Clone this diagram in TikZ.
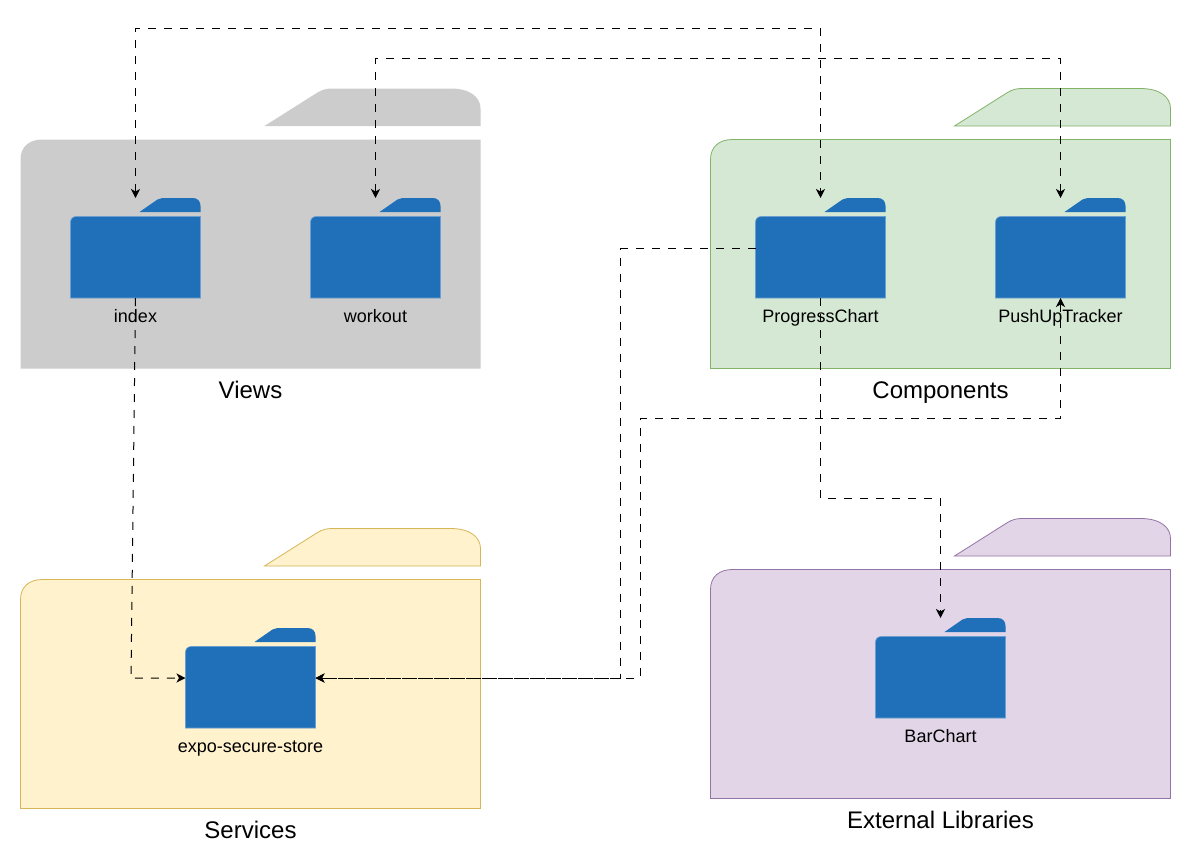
\documentclass[tikz,border=0pt]{standalone}
\usepackage{fontspec}
\setmainfont{Liberation Sans}
\usetikzlibrary{arrows.meta}
\definecolor{fblue}{HTML}{1F70B8}
\definecolor{fedge}{HTML}{6A9FD0}
\definecolor{grayfill}{HTML}{CCCCCC}
\definecolor{greenfill}{HTML}{D5E8D4}
\definecolor{greenedge}{HTML}{82B366}
\definecolor{yellowfill}{HTML}{FFF2CC}
\definecolor{yellowedge}{HTML}{D6B656}
\definecolor{purplefill}{HTML}{E1D5E7}
\definecolor{purpleedge}{HTML}{9673A6}
\tikzset{
  x=1pt,y=-1pt,
  anchorbox/.style={inner sep=0pt,outer sep=0pt,minimum width=130pt,minimum height=100pt},
  smalllabel/.style={font=\fontsize{18}{20}\selectfont,text=black,inner sep=0pt,anchor=base},
  biglabel/.style={font=\fontsize{24}{28}\selectfont,text=black,inner sep=0pt,anchor=base},
  folderbody/.style={fill=fblue,draw=fedge,line width=0.6pt},
  link/.style={draw=black,line width=1pt,dash pattern=on 8pt off 8pt},
  linkend/.style={-{Stealth[length=9pt,width=9pt,inset=2.5pt]}},
  linkboth/.style={{Stealth[length=9pt,width=9pt,inset=2.5pt]}-{Stealth[length=9pt,width=9pt,inset=2.5pt]}}
}
% small folder: name, left x, top y, label
\newcommand{\smallfolder}[4]{%
  \node[anchorbox] (#1) at (#2+65,#3+50) {};
  \fill[fblue] (#2+69,#3+14) -- (#2+87,#3+1.5) .. controls (#2+89,#3) and (#2+90,#3) .. (#2+92,#3)
     -- (#2+122,#3) .. controls (#2+127,#3) and (#2+130,#3+3) .. (#2+130,#3+8) -- (#2+130,#3+14) -- cycle;
  \draw[folderbody] (#2,#3+100) -- (#2,#3+24.5) .. controls (#2,#3+21) and (#2+2,#3+18.5) .. (#2+6,#3+18.5)
     -- (#2+130,#3+18.5) -- (#2+130,#3+100) -- cycle;
  \node[smalllabel] (#1lab) at (#2+65,#3+124) {#4};
}
% group folder: left x, top y of tab, fill, edge
\newcommand{\groupfolder}[4]{%
  \filldraw[fill=#3,draw=#4,line width=0.8pt] (#1+244,#2+37.5) -- (#1+297,#2+4) .. controls (#1+302,#2+1) and (#1+306,#2) .. (#1+312,#2)
     -- (#1+430,#2) .. controls (#1+450,#2) and (#1+460,#2+9) .. (#1+460,#2+20) -- (#1+460,#2+37.5) -- cycle;
  \filldraw[fill=#3,draw=#4,line width=0.8pt] (#1,#2+280) -- (#1,#2+71) .. controls (#1,#2+58) and (#1+9,#2+51) .. (#1+22,#2+51)
     -- (#1+460,#2+51) -- (#1+460,#2+280) -- cycle;
}
\begin{document}
\begin{tikzpicture}
\useasboundingbox (0,0) rectangle (1191,865);
\fill[white] (0,0) rectangle (1191,865);
\groupfolder{20.5}{88.5}{grayfill}{none}
\groupfolder{710.5}{88.5}{greenfill}{greenedge}
\groupfolder{20.5}{528.5}{yellowfill}{yellowedge}
\groupfolder{710.5}{518.5}{purplefill}{purpleedge}
\smallfolder{idx}{70.5}{198}{index}
\smallfolder{wko}{310.5}{198}{workout}
\smallfolder{pgc}{755.5}{198}{ProgressChart}
\smallfolder{put}{995.5}{198}{PushUpTracker}
\smallfolder{ess}{185.5}{628}{expo-secure-store}
\smallfolder{bar}{875.5}{618}{BarChart}
\node[biglabel] (viewsl) at (250.5,398.3) {Views};
\node[biglabel] (compl) at (940.5,398.3) {Components};
\node[biglabel] (servl) at (250.5,838.3) {Services};
\node[biglabel] (extl) at (940.5,828.3) {External Libraries};
\coordinate (a1) at (135.5,28.5);
\coordinate (a2) at (375.5,58.5);
\draw[link,linkboth] (idx.north) -- (a1) -| (pgc.north);
\draw[link,linkboth] (wko.north) -- (a2) -| (put.north);
\coordinate (b1) at (131,678);
\draw[link,linkend] (idx.south) -- (b1) -- (ess.west);
\coordinate (c1) at (620.5,248.5);
\draw[link,linkend] (pgc.west |- c1) -- (c1) |- (ess.east);
\coordinate (d1) at (640.5,418.5);
\draw[link,linkboth] (put.south) |- (d1) |- (ess.east);
\coordinate (e1) at (940.5,498.5);
\draw[link,linkend] (pgc.south) |- (e1) -- (bar.north);
\end{tikzpicture}
\end{document}
